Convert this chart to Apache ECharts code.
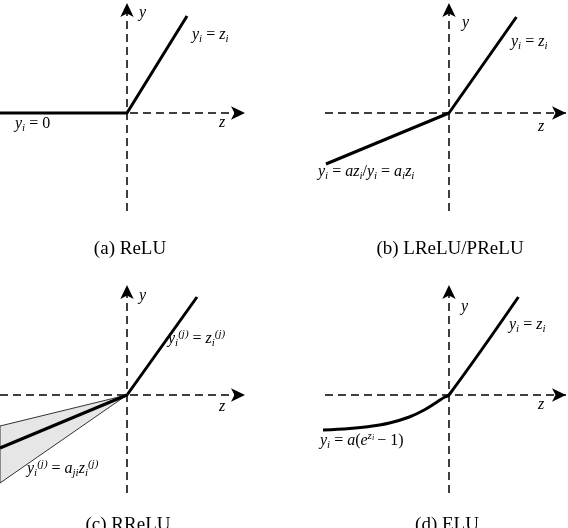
<!DOCTYPE html>
<html lang="en">
<head>
<meta charset="UTF-8">
<title>Activation functions</title>
<script src="https://cdn.jsdelivr.net/npm/echarts@6/dist/echarts.min.js"></script>
<style>body{margin:0;background:#fff}</style>
</head>
<body>
<div id="main" style="width:568px;height:528px;"></div>
<script>
var myChart = echarts.init(document.getElementById('main'));

// curve points, (z, y) pairs
var reluLine = [[-1.27, 0], [0, 0], [0.6, 0.97]];
var lreluLine = [[-1.24, -0.51], [0, 0], [0.68, 0.96]];
var rreluLine = [[-1.27, -0.53], [0, 0], [0.7, 0.98]];
var rreluBand = [[-1.27, -0.31], [0, 0], [-1.27, -0.88]];
var eluLine = [[-1.27, -0.35], [-1.0, -0.335], [-0.8, -0.315], [-0.6, -0.28],
  [-0.4, -0.22], [-0.25, -0.15], [-0.12, -0.07], [-0.05, -0.025], [0, 0], [0.7, 0.98]];
var captions = ['(a) ReLU', '(b) LReLU/PReLU', '(c) RReLU', '(d) ELU'];

var panels = [
  { left: 0, top: 0 },
  { left: 323, top: 0 },
  { left: 0, top: 282 },
  { left: 323, top: 282 }
];

var grids = [], xAxes = [], yAxes = [], series = [];
panels.forEach(function (p, i) {
  grids.push({ left: p.left, top: p.top, width: 247, height: 215 });
  xAxes.push({ gridIndex: i, type: 'value', min: -1.27, max: 1.2, show: false });
  yAxes.push({ gridIndex: i, type: 'value', min: -1.02, max: 1.13, show: false });
  // dashed axes with arrows
  series.push({
    type: 'line', xAxisIndex: i, yAxisIndex: i, data: [], silent: true,
    markLine: {
      silent: true, animation: false,
      symbol: ['none', 'arrow'], symbolSize: [10, 14],
      label: { show: false },
      lineStyle: { color: '#000', type: [8, 5], width: 1.5 },
      data: [
        [{ coord: [i == 0 || i == 2 ? -1.27 : -1.25, 0] }, { coord: [1.18, 0] }],
        [{ coord: [0, -0.98] }, { coord: [0, 1.1] }]
      ]
    }
  });
});

// gray band for RReLU
series.push({
  type: 'custom', xAxisIndex: 2, yAxisIndex: 2, data: [0], silent: true, z: 1,
  renderItem: function (params, api) {
    return {
      type: 'polygon',
      shape: { points: rreluBand.map(function (d) { return api.coord(d); }) },
      style: { fill: '#e6e6e6', stroke: '#000', lineWidth: 0.8 }
    };
  }
});

[reluLine, lreluLine, rreluLine, eluLine].forEach(function (d, i) {
  series.push({
    type: 'line', xAxisIndex: i, yAxisIndex: i, data: d, showSymbol: false,
    smooth: i == 3 ? 0.4 : false, z: 5,
    lineStyle: { color: '#000', width: 3 }
  });
});

var rich = {
  m: { fontFamily: 'Liberation Serif', fontStyle: 'italic', fontSize: 16 },
  r: { fontFamily: 'Liberation Serif', fontSize: 16 },
  s: { fontFamily: 'Liberation Serif', fontStyle: 'italic', fontSize: 11, padding: [9, 0, 0, 0] },
  p: { fontFamily: 'Liberation Serif', fontStyle: 'italic', fontSize: 11, padding: [0, 0, 9, 0] },
  q: { fontFamily: 'Liberation Serif', fontStyle: 'italic', fontSize: 8, padding: [0, 0, 6, 0] }
};
function label(x, y, text) {
  return { type: 'text', left: x, top: y, style: { text: text, rich: rich, fill: '#000' } };
}
var texts = [
  label(139, 5, '{m|y}'), label(219, 115, '{m|z}'),
  label(192, 27, '{m|y}{s|i}{r| = }{m|z}{s|i}'),
  label(15, 116, '{m|y}{s|i}{r| = 0}'),
  label(462, 15, '{m|y}'), label(538, 119, '{m|z}'),
  label(511, 34, '{m|y}{s|i}{r| = }{m|z}{s|i}'),
  label(318, 164, '{m|y}{s|i}{r| = }{m|az}{s|i}{r|/}{m|y}{s|i}{r| = }{m|a}{s|i}{m|z}{s|i}'),
  label(139, 288, '{m|y}'), label(219, 399, '{m|z}'),
  label(168, 329, '{m|y}{s|i}{p|(j)}{r| = }{m|z}{s|i}{p|(j)}'),
  label(27, 459, '{m|y}{s|i}{p|(j)}{r| = }{m|a}{s|ji}{m|z}{s|i}{p|(j)}'),
  label(461, 299, '{m|y}'), label(538, 397, '{m|z}'),
  label(509, 317, '{m|y}{s|i}{r| = }{m|z}{s|i}'),
  label(320, 431, '{m|y}{s|i}{r| = }{m|a}{r|(}{m|e}{p|z}{q|i}{r|\u2009\u2212 1)}')
];
var capPos = [[130, 240], [450, 240], [128, 516], [447, 516]];
captions.forEach(function (c, i) {
  texts.push({
    type: 'text', x: capPos[i][0], y: capPos[i][1],
    style: { text: c, font: '19px "Liberation Serif"', fill: '#000', align: 'center', textAlign: 'center' }
  });
});

option = {
  animation: false,
  grid: grids,
  xAxis: xAxes,
  yAxis: yAxes,
  series: series,
  graphic: texts
};
myChart.setOption(option);
</script>
</body>
</html>
